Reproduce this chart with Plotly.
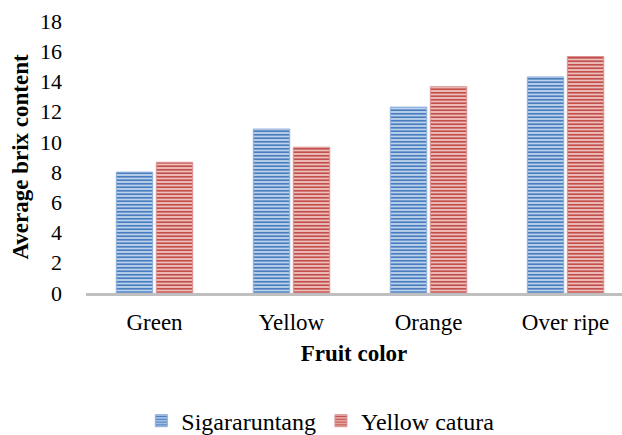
import plotly.graph_objects as go

categories = ["Green", "Yellow", "Orange", "Over ripe"]
sigararuntang = [8.0, 10.85, 12.3, 14.3]
yellow_catura = [8.65, 9.65, 13.65, 15.65]
y_ticks = [0, 2, 4, 6, 8, 10, 12, 14, 16, 18]

FONT = "Liberation Serif, Times New Roman, serif"

fig = go.Figure()
fig.add_trace(go.Bar(
    x=categories, y=sigararuntang, name="Sigararuntang",
    marker=dict(color="#c9daf0",
                line=dict(color="#8fb0dc", width=1),
                pattern=dict(shape="-", fgcolor="#4a7ebf", bgcolor="#cadbf1",
                             size=3.5, solidity=0.55, fillmode="replace")),
))
fig.add_trace(go.Bar(
    x=categories, y=yellow_catura, name="Yellow catura",
    marker=dict(color="#f0c8c7",
                line=dict(color="#dc9290", width=1),
                pattern=dict(shape="-", fgcolor="#c24f4c", bgcolor="#f2cbca",
                             size=3.5, solidity=0.55, fillmode="replace")),
))

fig.update_layout(
    width=622, height=435,
    margin=dict(l=86, r=0, t=21, b=142),
    paper_bgcolor="white", plot_bgcolor="white",
    font=dict(family=FONT, size=23, color="black"),
    barmode="group", bargap=0.416, bargroupgap=0.09,
    xaxis=dict(
        range=[-0.5, 3.412], showline=True, linecolor="#bfbfbf", linewidth=3,
        ticks="", showgrid=False, zeroline=False, automargin=False,
        title=dict(text="<b>Fruit color</b>", font=dict(size=23), standoff=12),
        tickfont=dict(size=23), ticklabelstandoff=6,
    ),
    yaxis=dict(
        range=[0, 18], tickvals=y_ticks, showgrid=False, zeroline=False,
        showline=False, ticks="", ticklabelstandoff=23, automargin=False,
        title=dict(text="<b>Average brix content</b>", font=dict(size=23), standoff=4),
        tickfont=dict(size=22),
    ),
    legend=dict(
        orientation="h", x=0.515, xanchor="center", xref="container",
        y=0.032, yanchor="middle", yref="container",
        font=dict(size=24), itemwidth=30,
    ),
    showlegend=True,
)

fig.write_html("out.html", config={"displayModeBar": False},
               post_script="document.body.style.margin='0';")
